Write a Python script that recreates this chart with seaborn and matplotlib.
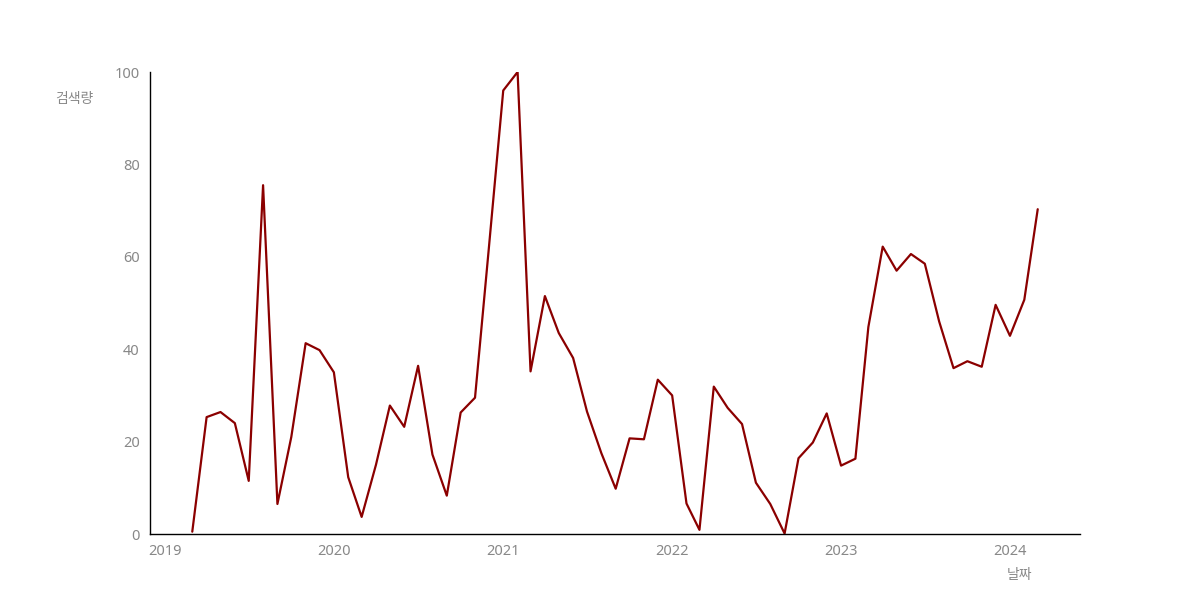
import matplotlib
matplotlib.use('Agg')
import matplotlib.pyplot as plt
import matplotlib.dates as mdates
import numpy as np
import pandas as pd
import seaborn as sns

# monthly search volume, 2019-03 .. 2024-03
start = '2019-03-01'
periods = 61
volume = [
    0.5, 25.3, 26.4, 24.0, 11.5, 75.5, 6.5, 21.0, 41.3, 39.8,
    35.0, 12.3, 3.7, 15.0, 27.8, 23.2, 36.4, 17.2, 8.3, 26.3,
    29.5, 62.0, 96.0, 100.0, 35.2, 51.5, 43.5, 38.1, 26.5, 17.5,
    9.8, 20.7, 20.5, 33.4, 30.0, 6.6, 0.9, 31.9, 27.3, 23.8,
    11.1, 6.5, 0.1, 16.4, 19.8, 26.1, 14.8, 16.3, 44.8, 62.2,
    57.0, 60.6, 58.5, 46.0, 35.9, 37.4, 36.2, 49.6, 42.9, 50.7,
    70.3,
]
y_ticks = [0, 20, 40, 60, 80, 100]

df = pd.DataFrame({'날짜': pd.date_range(start, periods=periods, freq='MS'), '검색량': volume})

sns.set_style('white')
plt.rcParams['font.family'] = ['Noto Sans', 'Noto Sans CJK KR', 'DejaVu Sans']

fig, ax = plt.subplots(figsize=(12, 6), dpi=100)
sns.lineplot(data=df, x='날짜', y='검색량', color='#8b0000', linewidth=1.6, ax=ax)

ax.set_ylim(0, 100)
ax.set_yticks(y_ticks)
ax.xaxis.set_major_locator(mdates.YearLocator())
ax.xaxis.set_major_formatter(mdates.DateFormatter('%Y'))
sns.despine(ax=ax)
for side in ('left', 'bottom'):
    ax.spines[side].set_color('black')
    ax.spines[side].set_linewidth(1.0)
ax.tick_params(axis='both', colors='#888888', labelsize=10.5, length=4, width=0.8, labelcolor='#888888')

ax.set_ylabel('검색량', rotation=0, color='#888888', fontsize=10, va='center', ha='center')
ax.yaxis.set_label_coords(-0.081, 0.94)
ax.set_xlabel('날짜', color='#888888', fontsize=10, va='center', ha='center')
ax.xaxis.set_label_coords(0.935, -0.089)

fig.savefig('out.png', dpi=100)
plt.close(fig)
